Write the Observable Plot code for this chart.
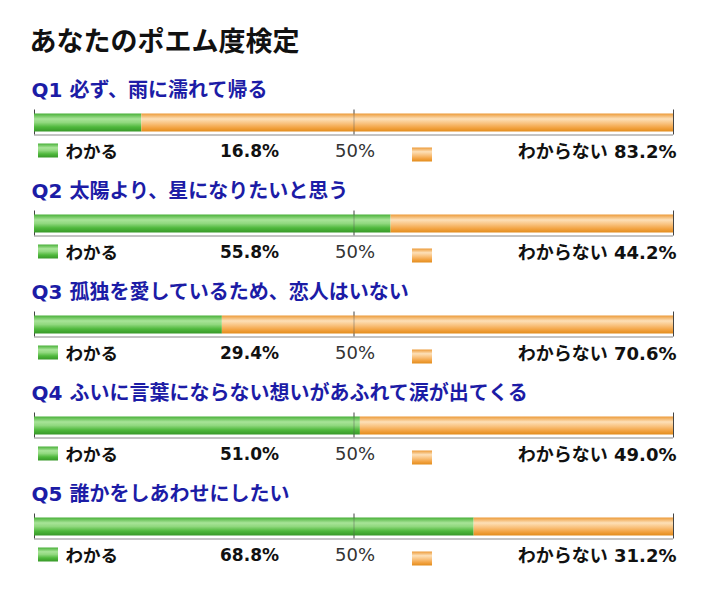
<!DOCTYPE html>
<html><head><meta charset="utf-8">
<script src="https://cdn.jsdelivr.net/npm/d3@7"></script>
<script src="https://cdn.jsdelivr.net/npm/@observablehq/plot@0.6"></script>
<style>body{margin:0;background:#fff}</style>
</head><body><div id="chart"></div>
<script>
const chartTitle = "あなたのポエム度検定";
const questions = [
  "Q1 必ず、雨に濡れて帰る",
  "Q2 太陽より、星になりたいと思う",
  "Q3 孤独を愛しているため、恋人はいない",
  "Q4 ふいに言葉にならない想いがあふれて涙が出てくる",
  "Q5 誰かをしあわせにしたい"
];
const agree = [16.8, 55.8, 29.4, 51.0, 68.8];
const disagree = [83.2, 44.2, 70.6, 49.0, 31.2];
const agreeLabel = "わかる";
const disagreeLabel = "わからない";
const midLabel = "50%";
const frameTicks = [0, 50, 100];

const rows = questions.map((q, i) => ({q, a: agree[i], d: disagree[i]}));
const tickRows = rows.flatMap(r => frameTicks.map(t => ({q: r.q, t})));

function gradientDefs() {
  const defs = d3.create("svg:defs");
  const add = (id, stops) => {
    const g = defs.append("linearGradient").attr("id", id)
      .attr("x1", 0).attr("y1", 0).attr("x2", 0).attr("y2", 1);
    for (const [o, c] of stops) g.append("stop").attr("offset", o).attr("stop-color", c);
  };
  add("gradG", [["0", "#48b038"], ["0.3", "#a8e498"], ["0.5", "#90d87e"], ["0.75", "#4fb83c"], ["1", "#379828"]]);
  add("gradO", [["0", "#ec9a38"], ["0.3", "#fde0b8"], ["0.55", "#f9c27e"], ["0.8", "#f2a240"], ["1", "#e28c1c"]]);
  return defs.node();
}

const rectSymbol = {draw(ctx) { ctx.rect(-10, -7, 20, 14); }};
const font = "'DejaVu Sans', 'Noto Sans CJK JP', sans-serif";

const chart = Plot.plot({
  width: 705,
  height: 592,
  margin: 0,
  style: {fontFamily: font, background: "#fff"},
  x: {domain: [0, 100], range: [34, 673], axis: null},
  y: {type: "band", domain: questions, range: [72, 577], padding: 0, axis: null},
  marks: [
    gradientDefs,
    Plot.tickX(tickRows, {x: "t", y: "q", stroke: "#444", insetTop: 37.5, insetBottom: 38.5}),
    Plot.ruleY(rows, {y: "q", x1: () => 0, x2: () => 100, dy: 12, stroke: "#888"}),
    Plot.barX(rows, {y: "q", x1: () => 0, x2: "a", fill: "url(#gradG)", insetTop: 41.5, insetBottom: 41.5}),
    Plot.barX(rows, {y: "q", x1: "a", x2: () => 100, fill: "url(#gradO)", insetTop: 41.5, insetBottom: 41.5}),
    Plot.tickX(rows, {x: () => 50, y: "q", stroke: "#555", strokeOpacity: 0.45, insetTop: 41.5, insetBottom: 41.5}),
    // title
    Plot.text([chartTitle], {frameAnchor: "top-left", text: d => d, dx: 29, dy: 42, textAnchor: "start", lineAnchor: "middle", fontSize: 27, fontWeight: "bold", fill: "#111"}),
    // question titles
    Plot.text(rows, {x: () => 0, y: "q", text: "q", dx: -3, dy: -32, textAnchor: "start", lineAnchor: "middle", fontSize: 20, fontWeight: "bold", fill: "#1c1ca6"}),
    // legend swatches
    Plot.dot(rows, {x: () => 0, y: "q", dx: 13.5, dy: 27.5, symbol: rectSymbol, fill: "url(#gradG)"}),
    Plot.dot(rows, {x: () => 50, y: "q", dx: 68, dy: 31.5, symbol: rectSymbol, fill: "url(#gradO)"}),
    // legend texts
    Plot.text(rows, {x: () => 0, y: "q", text: () => agreeLabel, dx: 31, dy: 29, textAnchor: "start", lineAnchor: "middle", fontSize: 17.5, fontWeight: "bold", fill: "#111"}),
    Plot.text(rows, {x: () => 50, y: "q", text: d => d.a.toFixed(1) + "%", dx: -75, dy: 29, textAnchor: "end", lineAnchor: "middle", fontSize: 17, fontWeight: "bold", fill: "#111"}),
    Plot.text(rows, {x: () => 50, y: "q", text: () => midLabel, dx: 1, dy: 28, textAnchor: "middle", lineAnchor: "middle", fontSize: 18, fill: "#333"}),
    Plot.text(rows, {x: () => 100, y: "q", text: d => disagreeLabel + " " + d.d.toFixed(1) + "%", dx: 3, dy: 29, textAnchor: "end", lineAnchor: "middle", fontSize: 18, fontWeight: "bold", fill: "#111"})
  ]
});
document.getElementById("chart").append(chart);
</script>
</body></html>
